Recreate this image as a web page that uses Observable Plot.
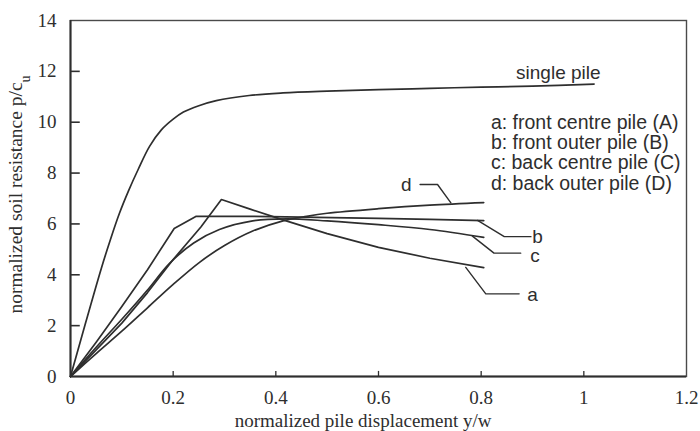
<!DOCTYPE html>
<html>
<head>
<meta charset="utf-8">
<script src="https://cdn.jsdelivr.net/npm/d3@7"></script>
<script src="https://cdn.jsdelivr.net/npm/@observablehq/plot@0.6"></script>
<style>
  html, body { margin: 0; padding: 0; background: #fff; }
</style>
</head>
<body>
<div id="chart"></div>
<script>
// p-y curves: normalized soil resistance vs normalized pile displacement
const singleX = [0, 0.03, 0.06, 0.078, 0.095, 0.113, 0.132, 0.154, 0.177, 0.2, 0.22, 0.25, 0.284, 0.348, 0.414, 0.5, 0.6, 0.7, 0.8, 0.9, 1.02];
const singleY = [0, 2.15, 4.25, 5.4, 6.4, 7.3, 8.15, 9.05, 9.7, 10.12, 10.4, 10.65, 10.85, 11.05, 11.15, 11.22, 11.28, 11.33, 11.38, 11.42, 11.5];

const aX = [0, 0.05, 0.1, 0.15, 0.2, 0.254, 0.294, 0.35, 0.414, 0.5, 0.6, 0.7, 0.805];
const aY = [0, 1.05, 2.1, 3.3, 4.6, 5.88, 6.96, 6.58, 6.16, 5.62, 5.08, 4.65, 4.28];

const bX = [0, 0.05, 0.1, 0.15, 0.202, 0.245, 0.35, 0.45, 0.6, 0.7, 0.805];
const bY = [0, 1.35, 2.75, 4.2, 5.82, 6.3, 6.3, 6.27, 6.22, 6.18, 6.13];

const cX = [0, 0.05, 0.1, 0.15, 0.193, 0.24, 0.29, 0.355, 0.42, 0.5, 0.6, 0.7, 0.805];
const cY = [0, 1.15, 2.25, 3.4, 4.45, 5.25, 5.78, 6.12, 6.2, 6.12, 5.97, 5.78, 5.47];

const dX = [0, 0.05, 0.1, 0.15, 0.2, 0.252, 0.3, 0.355, 0.414, 0.46, 0.5, 0.6, 0.7, 0.805];
const dY = [0, 0.9, 1.78, 2.7, 3.62, 4.5, 5.15, 5.72, 6.12, 6.3, 6.42, 6.6, 6.74, 6.84];

const xTicks = [0, 0.2, 0.4, 0.6, 0.8, 1, 1.2];
const yTicks = [0, 2, 4, 6, 8, 10, 12, 14];

const legendLabels = [
  "a: front centre pile (A)",
  "b: front outer pile (B)",
  "c: back centre pile (C)",
  "d: back outer pile (D)"
];
const singleLabel = "single pile";

const xTitle = "normalized pile displacement y/w";
const yTitleMain = "normalized soil resistance p/c";
const yTitleSub = "u";

// long-format tables: smooth curves and the piecewise-straight ones
const toRows = (name, xs, ys) => xs.map((x, i) => ({name, x, y: ys[i]}));
const smoothRows = [
  ...toRows("single", singleX, singleY),
  ...toRows("c", cX, cY),
  ...toRows("d", dX, dY)
];
const angularRows = [
  ...toRows("a", aX, aY),
  ...toRows("b", bX, bY)
];

// leader lines from each curve end to its letter (data units)
const leaders = [
  {tag: "d", path: [[0.681, 7.55], [0.715, 7.55], [0.741, 6.83]], text: [0.654, 7.52], anchor: "middle"},
  {tag: "b", path: [[0.793, 6.14], [0.845, 5.5], [0.897, 5.5]], text: [0.91, 5.5], anchor: "start"},
  {tag: "c", path: [[0.783, 5.52], [0.825, 4.85], [0.877, 4.85]], text: [0.905, 4.74], anchor: "start"},
  {tag: "a", path: [[0.770, 4.29], [0.809, 3.25], [0.874, 3.25]], text: [0.9, 3.2], anchor: "start"}
];
const leaderRows = leaders.flatMap(l => l.path.map(([x, y]) => ({tag: l.tag, x, y})));

const ink = "#2e2e2e";
const serif = "'Liberation Serif', 'Times New Roman', serif";
const sans = "'Liberation Sans', Arial, sans-serif";

const svg = Plot.plot({
  width: 700,
  height: 431,
  marginLeft: 70,
  marginRight: 14,
  marginTop: 20,
  marginBottom: 55,
  style: {fontFamily: serif, background: "#fff", color: ink},
  x: {domain: [0, 1.2], label: null},
  y: {domain: [0, 14], label: null},
  marks: [
    Plot.frame({stroke: "#4a4a4a", strokeWidth: 1.4}),
    Plot.ruleX([0], {stroke: ink, strokeWidth: 2}),
    Plot.ruleY([0], {stroke: ink, strokeWidth: 2}),
    // inward tick marks
    Plot.ruleX(xTicks.slice(1, -1), {y1: 0, y2: 0.2, stroke: ink, strokeWidth: 1.3}),
    Plot.ruleY(yTicks.slice(1, -1), {x1: 0, x2: 0.019, stroke: ink, strokeWidth: 1.6}),
    Plot.axisX(xTicks, {tickSize: 0, tickPadding: 14, fontSize: 19, fontFamily: serif, fill: ink, tickFormat: d3.format("")}),
    Plot.axisY(yTicks, {tickSize: 0, tickPadding: 14, fontSize: 19, fontFamily: serif, fill: ink}),
    // curves
    Plot.line(smoothRows, {x: "x", y: "y", z: "name", curve: "catmull-rom", stroke: ink, strokeWidth: 1.7}),
    Plot.line(angularRows, {x: "x", y: "y", z: "name", stroke: ink, strokeWidth: 1.7, strokeLinejoin: "round"}),
    Plot.line(leaderRows, {x: "x", y: "y", z: "tag", stroke: ink, strokeWidth: 1.4}),
    Plot.text(leaders, {x: d => d.text[0], y: d => d.text[1], text: "tag", textAnchor: d => d.anchor, fontFamily: sans, fontSize: 19, fill: ink}),
    // labels
    Plot.text([singleLabel], {x: () => 0.868, y: () => 11.92, textAnchor: "start", fontFamily: sans, fontSize: 19, fill: ink}),
    Plot.text(legendLabels, {x: () => 0.819, y: (d, i) => 9.99 - i * 0.8, textAnchor: "start", fontFamily: sans, fontSize: 19.5, fill: ink}),
    // axis titles
    Plot.text([xTitle], {x: () => 0.57, frameAnchor: "bottom", lineAnchor: "middle", textAnchor: "middle", dy: 44, fontFamily: serif, fontSize: 19, fill: ink}),
    Plot.text([yTitleMain + yTitleSub], {frameAnchor: "left", rotate: -90, textAnchor: "middle", lineAnchor: "middle", dx: -55, dy: -4, fontFamily: serif, fontSize: 19.5, fill: ink})
  ]
});

// set the subscript on the y-axis title
d3.select(svg).selectAll("text")
  .filter(function () { return this.textContent === yTitleMain + yTitleSub; })
  .each(function () {
    const t = d3.select(this);
    t.text(yTitleMain);
    t.append("tspan").attr("baseline-shift", "sub").attr("font-size", 14).text(yTitleSub);
  });

document.getElementById("chart").appendChild(svg);
</script>
</body>
</html>
